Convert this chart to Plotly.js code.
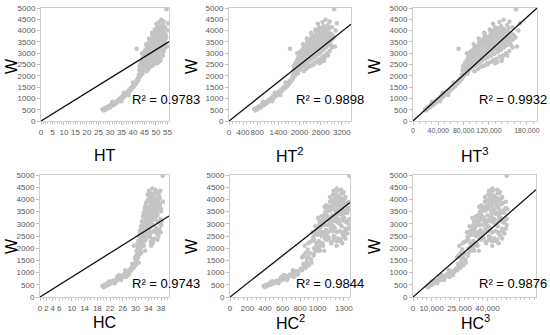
<!DOCTYPE html>
<html>
<head>
<meta charset="utf-8">
<script src="https://cdn.plot.ly/plotly-3.0.1.min.js"></script>
<style>html,body{margin:0;padding:0;background:#fff;}#chart{width:550px;height:335px;}</style>
</head>
<body>
<div id="chart"></div>
<script>
// ---- data ----
// HT (and W) pairs; the HT² and HT³ panels plot the same samples
var htVals = [26.8,27.3,27.7,28.2,28.6,29.1,29.5,30.0,30.4,30.9,31.3,31.8,32.2,32.7,33.1,33.6,34.0,34.5,34.9,35.4,35.8,36.3,36.7,37.2,37.6,38.0,38.5,38.9,39.3,39.7,40.1,40.5,40.9,41.2,41.6,41.9,42.2,42.5,31.0,35.0,38.2,40.0,36.0,
42.6,42.8,42.9,43.1,43.2,43.3,43.4,43.6,43.7,43.8,43.9,44.0,44.1,44.2,44.3,44.4,44.5,44.6,44.7,44.8,44.9,
45.0,45.1,45.2,45.3,45.4,45.5,45.6,45.7,45.8,45.9,46.0,46.1,46.2,46.3,46.4,46.5,46.6,46.7,46.8,46.9,47.0,47.1,
47.2,47.3,47.4,47.5,47.6,47.7,47.8,47.9,48.0,48.1,48.2,48.3,48.4,48.5,48.6,48.7,48.8,48.9,49.0,49.1,49.2,49.3,49.4,49.5,49.6,49.7,
49.8,49.9,50.0,50.1,50.2,50.3,50.4,50.5,50.6,50.7,50.8,50.9,51.0,51.1,51.2,51.3,51.4,51.5,51.6,51.7,51.8,51.9,52.0,52.1,52.2,52.3,
52.4,52.5,52.6,52.7,52.8,52.9,53.0,53.1,53.2,53.3,53.5,53.6,53.8,54.0,54.2,54.5,
43.0,43.5,44.0,44.5,45.0,45.5,46.0,46.5,47.0,47.5,48.0,48.5,49.0,49.5,50.0,50.5,51.0,51.5,52.0,52.5,53.0,44.2,45.3,46.4,47.6,48.8,49.9,51.0,52.0,53.2,45.8,47.0,48.3,49.5,50.6,51.8,
48.2,48.9,49.6,50.3,50.9,51.6,52.2,52.8,53.4,54.0,49.0,50.0,51.0,52.0,53.0,47.5,46.8,50.6,51.9,53.7,
41.6,44.0,52.3,53.4,51.5,54.6,55.3,54.8,50.2,55.0,46.0,48.0,53.0,54.0];
var wHT = [520,470,560,505,610,570,650,600,720,670,760,720,830,790,900,860,960,920,1050,1000,1130,1080,1210,1170,1300,1250,1390,1340,1480,1440,1580,1530,1680,1640,1790,1740,1900,1850,850,870,1150,1700,1250,
2050,2250,2420,1980,2150,2330,2560,2080,2270,2450,2680,2180,2380,2560,2790,2940,2230,2470,2650,2860,3050,
2310,2520,2720,2900,3120,2400,2600,2790,2980,3200,3350,2450,2660,2850,3050,3250,2520,2720,2920,3130,3340,3500,
2600,2800,3000,3200,3400,3580,2680,2880,3080,3280,3470,3660,3820,2750,2950,3150,3350,3530,3720,2820,3030,3230,3420,3600,3790,3950,
2900,3100,3300,3490,3680,3860,4020,2980,3180,3380,3560,3750,3930,4100,3060,3260,3450,3640,3830,4000,3150,3350,3540,3730,3910,4080,
3250,3450,3640,3820,3990,3350,3550,3740,3920,4100,3480,3680,3860,3600,3800,3700,
2340,2400,2500,2600,2800,2900,3000,2900,3100,2950,3400,3500,3350,3200,3650,3800,3550,3350,3800,4000,3850,2100,2550,2750,2850,3000,3450,3200,3300,3600,3400,3650,3900,4050,4150,4200,
2450,2550,2600,2700,2750,2850,2900,3000,3100,3250,2500,2650,2600,2750,2900,2400,2300,2550,2650,3350,
3200,3000,4480,4400,4380,4950,4320,3300,4300,4000,2200,2450,4250,4150];

// W for the HC panels
var wHC = [450,400,500,460,530,490,580,540,620,580,680,640,730,690,790,740,850,800,920,870,990,940,1070,1010,1160,1100,1260,1200,1370,1300,
650,560,900,700,1100,900,1350,600,820,820,
1450,1700,1900,1550,1800,2100,1620,2300,1950,2500,1750,2200,2700,1900,2450,2900,2050,2650,3100,
2200,2800,3300,2350,2950,3450,2500,3100,3600,2650,3250,3750,2400,2800,3400,3900,2550,3000,3550,4000,
2700,3150,3700,4150,2850,3300,3850,4250,3000,3450,3950,3150,3600,4100,3300,3750,4200,3450,3900,3200,
3600,4050,3400,3800,3550,4000,3700,3900,3650,3800,
1650,2250,2550,2600,2700,3000,3150,3350,3550,3700,3550,3700,2400,3500,2900,3200,3950,2650,3100,4000,2800,2300,3300,3650,3250,3450,2000,2200,3000,3100,2500,2950,3650,
2200,2400,2600,2300,2500,2700,2800,2450,2350,2650,2900,3050,3150,3250,3350,3450,3550,3650,3750,3850,3950,4050,4150,4250,4350,
2000,2100,1900,1800,1700,2550,2750,2950,3150,3350,3550,3750,3950,2250,2850,3050,3250,3450,3650,3850,4050,
2600,2150,2950,3300,3700,4100,4200,2350,2700,3100,3500,3900,4300,1600,
4970,4400,4450,4300,4350,3200,2100,1400,1900,3100,4050,3600,
2200,2400,2600,2300,2500,2800,2100,2350,2700,2950,2450,2650];
// HC as read in the HC panel
var hcVals = [19.6,20.0,20.3,20.7,21.0,21.4,21.8,22.1,22.5,22.9,23.2,23.6,24.0,24.3,24.7,25.1,25.4,25.8,26.2,26.5,26.9,27.3,27.6,28.0,28.4,28.7,29.1,29.4,29.8,30.0,
22.0,23.5,24.8,25.5,26.8,27.8,28.9,21.5,24.2,27.0,
30.1,30.2,30.3,30.4,30.6,30.7,30.8,30.9,31.0,31.1,31.2,31.3,31.4,31.5,31.6,31.7,31.8,31.9,32.0,
32.1,32.2,32.3,32.4,32.5,32.6,32.7,32.8,32.9,33.0,33.1,33.2,33.3,33.4,33.5,33.6,33.7,33.8,33.9,34.0,
34.1,34.2,34.3,34.4,34.5,34.6,34.7,34.8,34.9,35.0,35.1,35.2,35.3,35.4,35.5,35.6,35.7,35.8,35.9,36.0,
36.1,36.2,36.3,36.4,36.5,36.6,36.8,37.0,37.2,37.5,
30.5,31.0,31.5,32.0,32.5,33.0,33.5,34.0,34.5,35.0,35.5,36.0,32.0,33.0,34.0,35.0,36.0,33.5,34.5,35.5,31.8,32.8,33.8,34.8,35.8,36.7,30.8,31.5,32.3,33.3,34.3,35.3,36.3,
31.6,32.4,33.2,32.0,32.9,33.6,34.2,31.9,33.1,35.0,33.4,34.6,35.3,36.1,34.0,35.7,36.5,35.1,36.8,35.9,37.1,36.3,37.4,36.7,37.8,
31.4,32.6,30.9,31.8,30.6,34.4,32.7,35.5,33.8,36.9,34.8,37.6,35.4,34.8,36.4,37.3,33.1,33.9,34.2,33.3,34.6,
31.5,30.5,32.2,32.5,33.0,35.1,33.8,35.6,37.0,38.2,38.0,38.6,36.2,29.8,
38.5,36.2,35.3,37.3,34.2,37.8,29.5,31.0,33.0,36.9,37.6,38.0,
35.4,36.0,36.6,35.2,37.2,37.5,34.9,36.9,35.8,38.1,34.6,37.9];
// HC as read back from the HC² and HC³ panels (same samples, same W)
var hcPowVals = [19.6,20.0,20.3,20.7,21.0,21.4,21.8,22.1,22.5,22.9,23.2,23.6,24.0,24.3,24.7,25.1,25.4,25.8,26.2,26.5,26.9,27.3,27.6,28.0,28.4,28.7,29.1,29.4,29.8,30.0,
22.0,23.5,24.8,25.5,26.8,27.8,28.9,21.5,24.2,27.0,
29.6,29.0,31.2,30.4,29.4,31.8,28.7,30.6,29.8,33.2,30.9,29.9,31.3,32.0,30.8,34.3,31.3,32.6,32.0,
32.5,31.8,34.8,31.0,32.9,33.2,32.3,34.6,35.2,33.5,33.0,34.1,32.9,33.9,35.4,35.0,31.6,32.6,33.6,34.4,
34.2,33.9,35.6,35.2,32.2,33.4,34.5,35.9,35.4,34.8,36.0,35.8,33.9,36.3,32.8,34.9,34.7,36.4,33.8,34.5,
36.6,35.6,35.9,36.2,35.0,34.6,33.6,36.8,34.2,35.5,
29.9,30.2,31.1,33.0,32.0,34.0,32.4,33.2,34.7,32.9,36.0,35.7,33.6,33.0,31.2,35.2,34.0,30.7,33.7,36.0,34.6,31.9,35.9,34.3,31.7,35.5,31.0,31.4,32.8,36.2,34.4,33.5,33.4,
34.0,35.2,35.8,34.8,36.0,35.4,36.3,33.5,34.4,34.9,35.7,36.5,35.0,33.6,34.2,35.3,33.9,35.8,34.8,35.6,34.1,35.3,34.6,35.7,35.0,
31.9,32.6,31.4,30.2,30.9,32.7,33.1,32.5,33.0,32.7,33.3,33.2,34.9,33.9,34.5,35.1,36.1,36.6,36.8,36.4,36.2,
31.9,32.2,31.9,32.3,32.9,33.8,34.3,33.2,34.2,34.0,35.1,35.5,36.0,29.6,
36.9,35.6,34.9,35.9,34.4,36.9,29.2,30.5,32.8,36.6,35.1,37.0,
35.8,36.3,36.6,35.3,36.1,36.8,34.9,35.6,36.4,36.9,34.6,35.9];

// fitted lines through the origin (end points read at the right edge)
var fitX = {HT:[0,55.7], HT2:[0,3460], HT3:[0,196000], HC:[0,40.5], HC2:[0,1370], HC3:[0,66000]};
var fitY = {HT:[0,3510], HT2:[0,4280], HT3:[0,5000], HC:[0,3320], HC2:[0,3870], HC3:[0,4400]};
var r2Labels = ['R² = 0.9783','R² = 0.9898','R² = 0.9932','R² = 0.9743','R² = 0.9844','R² = 0.9876'];
var xTitles = ['HT','HT<sup>2</sup>','HT<sup>3</sup>','HC','HC<sup>2</sup>','HC<sup>3</sup>'];
var yTitle = 'W';
var wTicks = [0,500,1000,1500,2000,2500,3000,3500,4000,4500,5000];
var xTickVals = [
  [0,5,10,15,20,25,30,35,40,45,50,55],
  [0,400,800,1400,2000,2600,3200],
  [0,40000,80000,120000,180000],
  [0,2,4,6,10,14,18,22,26,30,34,38],
  [0,200,400,600,800,1000,1300],
  [0,10000,25000,40000]
];
var xTickText = [
  ['0','5','10','15','20','25','30','35','40','45','50','55'],
  ['0','400','800','1400','2000','2600','3200'],
  ['0','40,000','80,000','120,000','180,000'],
  ['0','2','4','6','10','14','18','22','26','30','34','38'],
  ['0','200','400','600','800','1000','1300'],
  ['0','10,000','25,000','40,000']
];

// ---- x columns of each panel ----
function pw(a, p){ return a.map(function(v){ return Math.pow(v, p); }); }
var panelX = [htVals, pw(htVals,2), pw(htVals,3), hcVals, pw(hcPowVals,2), pw(hcPowVals,3)];
var panelY = [wHT, wHT, wHT, wHC, wHC, wHC];
var fitKeys = ['HT','HT2','HT3','HC','HC2','HC3'];

// ---- layout geometry (pixels) ----
var W = 550, H = 335;
var colPx = [[41,169],[229,351],[413,537],[40,169],[230,350],[413,536]];
var rowPx = [[8,121],[8,121],[8,121],[175,297],[175,297],[175,297]];
var minorD = [1,100,10000,1,50,2500];
var xTickSize = [8,8,7,8,8,8];
var r2Pos = [[166,100],[330,100],[513,100],[166,283],[330,283],[513,283]];
var xtPos = [[105,155],[290,155],[475,155],[104,322],[290,322],[475,322]];
var ytPos = [[11,66],[191,66],[374,66],[11,246],[191,246],[374,246]];

var FONT = '"Liberation Sans", Arial, sans-serif';
var traces = [], layout = {
  width: W, height: H, margin:{l:0,r:0,t:0,b:0},
  paper_bgcolor:'#ffffff', plot_bgcolor:'#ffffff', showlegend:false,
  annotations: []
};

for (var i = 0; i < 6; i++) {
  var sfx = i === 0 ? '' : String(i+1);
  traces.push({
    type:'scatter', mode:'markers', x: panelX[i], y: panelY[i],
    xaxis:'x'+sfx, yaxis:'y'+sfx, hoverinfo:'skip',
    marker:{color:'#c4c4c4', size:4.5, line:{width:0}}
  });
  traces.push({
    type:'scatter', mode:'lines', x: fitX[fitKeys[i]], y: fitY[fitKeys[i]],
    xaxis:'x'+sfx, yaxis:'y'+sfx, hoverinfo:'skip',
    line:{color:'#111111', width:1.3}
  });
  var fx = fitX[fitKeys[i]];
  layout['xaxis'+sfx] = {
    domain:[colPx[i][0]/W, colPx[i][1]/W], anchor:'y'+sfx,
    range:[0, fx[1]], showgrid:false, zeroline:false,
    showline:true, mirror:true, linecolor:'#cfcfcf', linewidth:1,
    ticks:'outside', ticklen:3, tickcolor:'#bfbfbf', tickangle:0,
    tickmode:'array', tickvals: xTickVals[i], ticktext: xTickText[i],
    tickfont:{family:FONT, size:xTickSize[i], color:'#595959'},
    minor:{tickmode:'linear', tick0:0, dtick:minorD[i], ticks:'outside', ticklen:2, tickcolor:'#c8c8c8'},
    fixedrange:true
  };
  layout['yaxis'+sfx] = {
    domain:[1-rowPx[i][1]/H, 1-rowPx[i][0]/H], anchor:'x'+sfx,
    range:[0,5000], showgrid:false, zeroline:false,
    showline:true, mirror:true, linecolor:'#cfcfcf', linewidth:1,
    ticks:'outside', ticklen:3, tickcolor:'#bfbfbf', tickangle:0,
    tickmode:'array', tickvals: wTicks,
    tickfont:{family:FONT, size:8, color:'#595959'},
    fixedrange:true
  };
  layout.annotations.push({
    xref:'paper', yref:'paper', x:r2Pos[i][0]/W, y:1-r2Pos[i][1]/H,
    xanchor:'center', yanchor:'middle', showarrow:false, text:r2Labels[i],
    font:{family:FONT, size:13, color:'#000000'}
  });
  layout.annotations.push({
    xref:'paper', yref:'paper', x:xtPos[i][0]/W, y:1-xtPos[i][1]/H,
    xanchor:'center', yanchor:'middle', showarrow:false, text:xTitles[i],
    font:{family:FONT, size:16, color:'#000000'}
  });
  layout.annotations.push({
    xref:'paper', yref:'paper', x:ytPos[i][0]/W, y:1-ytPos[i][1]/H,
    xanchor:'center', yanchor:'middle', showarrow:false, text:yTitle, textangle:-90,
    font:{family:FONT, size:16, color:'#000000'}
  });
}

Plotly.newPlot('chart', traces, layout, {staticPlot:true, displayModeBar:false});
</script>
</body>
</html>
